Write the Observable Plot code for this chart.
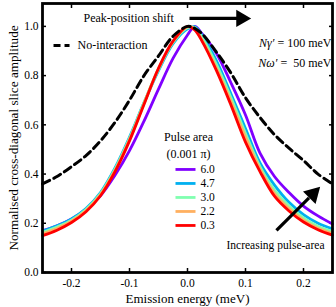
<!DOCTYPE html>
<html>
<head>
<meta charset="utf-8">
<script src="https://cdn.jsdelivr.net/npm/d3@7"></script>
<script src="https://cdn.jsdelivr.net/npm/@observablehq/plot@0.6"></script>
<style>
  html, body { margin: 0; padding: 0; background: #fff; font-family: "Liberation Serif", serif; }
  svg { display: block; }
  svg text { font-family: "Liberation Serif", serif !important; }
</style>
</head>
<body>
<script>
// Emission energy grid (meV)
const energy = [-0.25,-0.225,-0.2,-0.175,-0.15,-0.125,-0.1,-0.075,-0.05,-0.025,0,0.0125,0.025,0.05,0.075,0.1,0.125,0.15,0.175,0.2,0.225,0.25];

// Pulse area series (0.001 π)
const pulse60 = [0.170,0.190,0.218,0.257,0.312,0.395,0.495,0.615,0.745,0.870,0.965,1.000,0.970,0.890,0.770,0.640,0.485,0.390,0.325,0.270,0.230,0.197];
const pulse47 = [0.168,0.190,0.218,0.260,0.325,0.425,0.550,0.690,0.820,0.930,0.990,0.998,0.965,0.860,0.725,0.585,0.445,0.355,0.285,0.235,0.200,0.177];
const pulse30 = [0.163,0.185,0.213,0.256,0.321,0.420,0.545,0.690,0.826,0.935,0.995,0.995,0.955,0.845,0.710,0.565,0.430,0.335,0.270,0.222,0.188,0.166];
const pulse22 = [0.157,0.179,0.208,0.252,0.317,0.415,0.540,0.687,0.828,0.938,0.998,0.990,0.945,0.830,0.695,0.550,0.420,0.322,0.260,0.213,0.180,0.159];
const pulse03 = [0.150,0.172,0.203,0.247,0.312,0.410,0.535,0.683,0.830,0.940,1.000,0.985,0.940,0.820,0.680,0.530,0.410,0.310,0.250,0.205,0.174,0.152];
// No-interaction reference
const noInteraction = [0.360,0.390,0.430,0.475,0.535,0.610,0.700,0.800,0.880,0.960,1.000,0.992,0.970,0.895,0.810,0.710,0.630,0.560,0.505,0.455,0.400,0.360];

const seriesLabels = ["6.0","4.7","3.0","2.2","0.3"];
const seriesValues = [pulse60, pulse47, pulse30, pulse22, pulse03];
const seriesColors = ["#8000ff","#00b0f0","#80ffb0","#ffb060","#ff0000"];

const xTicks = [-0.2,-0.1,0,0.1,0.2];
const yTicks = [0,0.2,0.4,0.6,0.8,1.0];

// build long table
const rows = [];
seriesLabels.forEach((lab, i) => {
  energy.forEach((e, j) => rows.push({series: lab, energy: e, value: seriesValues[i][j]}));
});
const dashedRows = energy.map((e, j) => ({energy: e, value: noInteraction[j]}));

const FF = "Liberation Serif";

const legendRows = seriesLabels.map((lab, i) => ({label: lab, color: seriesColors[i], i}));

const plot = Plot.plot({
  width: 336,
  height: 307,
  marginLeft: 42,
  marginRight: 4,
  marginTop: 3,
  marginBottom: 35,
  style: {fontFamily: FF, fontSize: "11px", color: "#000", background: "#fff"},
  x: {domain: [-0.25, 0.25]},
  y: {domain: [0, 1.093]},
  color: {domain: seriesLabels, range: seriesColors},
  marks: [
    // inward ticks on all four sides
    Plot.axisX(xTicks, {anchor: "bottom", tickSize: -4, tickFormat: () => "", label: null, strokeWidth: 1.5}),
    Plot.axisX(xTicks, {anchor: "top", tickSize: -4, tickFormat: () => "", label: null, strokeWidth: 1.5}),
    Plot.axisY(yTicks, {anchor: "left", tickSize: -4, tickFormat: () => "", label: null, strokeWidth: 1.5}),
    Plot.axisY(yTicks, {anchor: "right", tickSize: -4, tickFormat: () => "", label: null, strokeWidth: 1.5}),
    // tick labels
    Plot.axisX(xTicks, {anchor: "bottom", tickSize: 0, tickPadding: 6, tickFormat: d => d.toFixed(1), label: null, fontSize: 11.5, fontFamily: FF}),
    Plot.axisY(yTicks, {anchor: "left", tickSize: 0, tickPadding: 4, tickFormat: d => d.toFixed(1), label: null, fontSize: 11.5, fontFamily: FF}),
    // curves
    Plot.line(rows, {x: "energy", y: "value", z: "series", stroke: "series", strokeWidth: 2.8, curve: "catmull-rom"}),
    Plot.line(dashedRows, {x: "energy", y: "value", stroke: "#000", strokeWidth: 3, strokeDasharray: "8,4.5", curve: "catmull-rom"}),
    Plot.frame({stroke: "#000", strokeWidth: 2.8}),
    // axis titles
    Plot.text(["Emission energy (meV)"], {frameAnchor: "bottom", dy: 26, fontSize: 13, textAnchor: "middle", lineAnchor: "middle", fontFamily: FF}),
    Plot.text(["Normalised cross-diagonal slice amplitude"], {frameAnchor: "left", dx: -29, rotate: -90, fontSize: 13.2, textAnchor: "middle", lineAnchor: "middle", fontFamily: FF}),
    // "Peak-position shift" annotation
    Plot.text(["Peak-position shift"], {x: -0.1793, y: 1.0325, textAnchor: "start", lineAnchor: "middle", fontSize: 12, fontFamily: FF}),
    Plot.link([{x1: 0.0034, x2: 0.088, y: 1.0325}], {x1: "x1", x2: "x2", y1: "y", y2: "y", stroke: "#000", strokeWidth: 3.2}),
    Plot.dot([{x: 0.0926, y: 1.0325}], {x: "x", y: "y", symbol: "triangle", r: 6.4, fill: "#000", rotate: 90}),
    // No-interaction legend
    Plot.link([{x1: -0.231, x2: -0.2034, y: 0.9228}], {x1: "x1", x2: "x2", y1: "y", y2: "y", stroke: "#000", strokeWidth: 3, strokeDasharray: "7,4"}),
    Plot.text(["No-interaction"], {x: -0.1897, y: 0.9228, textAnchor: "start", lineAnchor: "middle", fontSize: 12, fontFamily: FF}),
    // parameters
    Plot.text(["Nγ′ = 100 meV"], {x: 0.2483, y: 0.931, textAnchor: "end", lineAnchor: "middle", fontSize: 12, fontFamily: FF}),
    Plot.text(["Nω′ =  50 meV"], {x: 0.2483, y: 0.850, textAnchor: "end", lineAnchor: "middle", fontSize: 12, fontFamily: FF}),
    // pulse area legend
    Plot.text(["Pulse area"], {x: 0.0017, y: 0.548, textAnchor: "middle", lineAnchor: "middle", fontSize: 12, fontFamily: FF}),
    Plot.text(["(0.001 π)"], {x: 0.0017, y: 0.480, textAnchor: "middle", lineAnchor: "middle", fontSize: 12, fontFamily: FF}),
    Plot.link(legendRows, {x1: -0.0207, x2: 0.0138, y1: d => 0.4187 - d.i * 0.0569, y2: d => 0.4187 - d.i * 0.0569, stroke: "color", strokeWidth: 2.8}),
    Plot.text(legendRows, {x: 0.0224, y: d => 0.4187 - d.i * 0.0569, text: "label", textAnchor: "start", lineAnchor: "middle", fontSize: 11.5, fontFamily: FF}),
    // increasing pulse-area annotation
    Plot.link([{x1: 0.1534, y1: 0.1707, x2: 0.2095, y2: 0.3028}], {x1: "x1", y1: "y1", x2: "x2", y2: "y2", stroke: "#000", strokeWidth: 3.2}),
    Plot.dot([{x: 0.2162, y: 0.3187}], {x: "x", y: "y", symbol: "triangle", r: 6.6, fill: "#000", rotate: 45}),
    Plot.text(["Increasing pulse-area"], {x: 0.0672, y: 0.1098, textAnchor: "start", lineAnchor: "middle", fontSize: 11.5, fontFamily: FF})
  ]
});

// italicise the symbols in the parameter labels
d3.select(plot).selectAll("text").each(function() {
  const t = this.textContent;
  const m = t.match(/^(N[γω]′)(.*)$/);
  if (m) {
    const s = d3.select(this);
    s.text(null).attr("xml:space", "preserve").style("white-space", "pre");
    s.append("tspan").attr("font-style", "italic").text(m[1]);
    s.append("tspan").text(m[2]);
  }
});
d3.select(plot).selectAll("text").style("font-family", FF);

document.body.appendChild(plot);
</script>
</body>
</html>
